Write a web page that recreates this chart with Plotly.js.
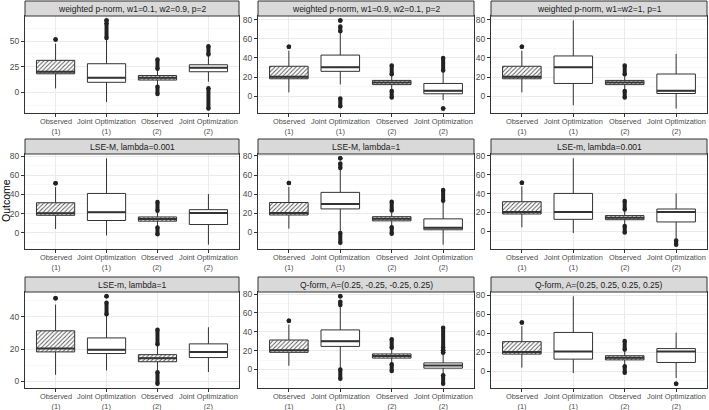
<!DOCTYPE html>
<html>
<head>
<meta charset="utf-8">
<script src="https://cdn.plot.ly/plotly-3.0.1.min.js"></script>
<style>html,body{margin:0;padding:0;background:#fff;}#chart{width:709px;height:410px;}</style>
</head>
<body>
<div id="chart"></div>
<script>
// ---------- data ----------
const panelTitles = [
  "weighted p-norm, w1=0.1, w2=0.9, p=2",
  "weighted p-norm, w1=0.9, w2=0.1, p=2",
  "weighted p-norm, w1=w2=1, p=1",
  "LSE-M, lambda=0.001",
  "LSE-M, lambda=1",
  "LSE-m, lambda=0.001",
  "LSE-m, lambda=1",
  "Q-form, A=(0.25, -0.25, -0.25, 0.25)",
  "Q-form, A=(0.25, 0.25, 0.25, 0.25)"
];
const categories = ["Observed<br>(1)", "Joint Optimization<br>(1)", "Observed<br>(2)", "Joint Optimization<br>(2)"];
const patternShapes = ["/", "", "/", ""];
const yDtick = [25, 20, 20, 20, 20, 20, 20, 20, 20];

// per panel: [Observed(1), Joint(1), Observed(2), Joint(2)]
const lowerFence = [
  [4, -9.3, 6, 10.5], [4, 12.3, 6, -4], [4, -9.5, 6, -13],
  [4, -2.8, 6, -12.4], [4, 0.3, 6, -12.8], [4, -2.1, 6, -8.3],
  [4, 6.7, 6, 5.7], [4, 0.7, 6, -5.6], [4, -1.7, 6, -7]
];
const q1 = [
  [18.2, 9.9, 12.1, 20.2], [18.2, 26, 12.1, 2.5], [18.2, 13.3, 12.1, 2.8],
  [18.2, 12.8, 12.1, 8.6], [18.2, 24.6, 12.1, 2.8], [18.2, 12.5, 12.1, 9.7],
  [18.2, 17.2, 12.1, 14.7], [18.2, 24.5, 12.1, 1.4], [18.2, 12.9, 12.1, 9.4]
];
const median = [
  [20.3, 14.4, 14.3, 24.2], [20.3, 30.2, 14.3, 5.6], [20.3, 30.2, 14.3, 5.6],
  [20.3, 21.4, 14.3, 20.7], [20.3, 29.8, 14.3, 4.8], [20.3, 20.4, 14.3, 20.4],
  [20.3, 19.6, 14.3, 18.2], [20.3, 30.1, 14.3, 4.2], [20.3, 20.9, 14.3, 20.9]
];
const q3 = [
  [31.3, 28, 16.5, 27], [31.3, 43, 16.5, 13.3], [31.3, 42.1, 16.5, 23.2],
  [31.3, 41, 16.5, 24.1], [31.3, 41.9, 16.5, 14.2], [31.3, 40.1, 16.5, 23.5],
  [31.3, 26.9, 16.5, 23.2], [31.3, 42, 16.5, 7], [31.3, 41, 16.5, 24]
];
const upperFence = [
  [47.6, 52, 22.5, 36.5], [47.6, 67, 22.5, 26.5], [47.6, 79.3, 22.5, 44.2],
  [47.6, 77.6, 22.5, 40.3], [47.6, 67, 22.5, 32.5], [47.6, 77.5, 22.5, 40.1],
  [47.6, 41, 22.5, 33.5], [47.6, 67, 22.5, 16.4], [47.6, 79, 22.5, 40.7]
];
// outlier clusters as [low, high] ranges of densely overlapping points
const outliers = [
  [[[51.6, 51.6]], [[53, 67.5], [70.2, 70.2]], [[-1.5, 5.5], [23, 32]], [[-15.7, 4.2], [37, 45]]],
  [[[51.6, 51.6]], [[-10.5, -2.5], [68, 73], [79.3, 79.3]], [[-1.5, 5.5], [23, 32]], [[-13, -13], [27, 40]]],
  [[[51.6, 51.6]], [], [[-1.5, 5.5], [23, 32]], []],
  [[[51.6, 51.6]], [], [[-1.5, 5.5], [23, 32]], []],
  [[[51.6, 51.6]], [[-10.7, -0.5], [67.5, 72], [77.5, 77.5]], [[-1.5, 5.5], [23, 32]], [[33.2, 44.3]]],
  [[[51.6, 51.6]], [], [[-1.5, 5.5], [23, 32]], [[-14.5, -10]]],
  [[[51.6, 51.6]], [[41.6, 48.7], [52.7, 52.7]], [[-1.5, 5.5], [23, 32]], []],
  [[[51.6, 51.6]], [[-9.8, 0], [68.5, 72], [77.6, 77.6]], [[-1.5, 5.5], [23, 32]], [[-15, -6], [18, 18], [20.5, 20.5], [23.4, 44.4]]],
  [[[51.6, 51.6]], [], [[-1.5, 5.5], [23, 32]], [[-12.9, -12.9]]]
];

// ---------- layout geometry (pixels) ----------
const W = 709, H = 410;
const colX = [[25, 239], [258, 474], [491, 707]];
const rowY = [[16, 113], [154, 249], [292, 388]];
const stripH = 15;
const boxW = 0.75;
const FONT = "Liberation Sans, Arial, sans-serif";

const traces = [];
const layout = {
  width: W, height: H,
  margin: {l: 0, r: 0, t: 0, b: 0},
  paper_bgcolor: "#ffffff", plot_bgcolor: "#ffffff",
  showlegend: false,
  barmode: "overlay", boxmode: "overlay",
  font: {family: FONT, color: "#4D4D4D"},
  shapes: [], annotations: []
};

for (let i = 0; i < 9; i++) {
  const r = Math.floor(i / 3), c = i % 3;
  const s = i === 0 ? "" : String(i + 1);
  const xa = "x" + s, ya = "y" + s;
  const xd = [colX[c][0] / W, colX[c][1] / W];
  const yd = [1 - rowY[r][1] / H, 1 - rowY[r][0] / H];

  // y range from data with 5% expansion
  let lo = Infinity, hi = -Infinity;
  for (let j = 0; j < 4; j++) {
    lo = Math.min(lo, lowerFence[i][j]); hi = Math.max(hi, upperFence[i][j]);
    outliers[i][j].forEach(p => { lo = Math.min(lo, p[0]); hi = Math.max(hi, p[1]); });
  }
  const pad = (hi - lo) * 0.05;

  layout["xaxis" + s] = {
    domain: xd, anchor: ya, range: [-0.6, 3.6],
    tickmode: "array", tickvals: [0, 1, 2, 3], showticklabels: false,
    showgrid: true, gridcolor: "#EBEBEB", gridwidth: 1, zeroline: false,
    showline: true, mirror: true, linecolor: "#333333", linewidth: 1,
    ticks: "outside", ticklen: 3, tickcolor: "#333333", fixedrange: true
  };
  layout["yaxis" + s] = {
    domain: yd, anchor: xa, range: [lo - pad, hi + pad],
    tickmode: "linear", tick0: 0, dtick: yDtick[i],
    showgrid: true, gridcolor: "#EBEBEB", gridwidth: 1, zeroline: false,
    minor: {tickmode: "linear", tick0: 0, dtick: yDtick[i] / 2, showgrid: true, gridcolor: "#F3F3F3", gridwidth: 0.6, ticks: ""},
    showline: true, mirror: true, linecolor: "#333333", linewidth: 1,
    ticks: "outside", ticklen: 3, tickcolor: "#333333",
    tickfont: {family: FONT, size: 8.5, color: "#4D4D4D"}, fixedrange: true
  };

  // strip
  layout.shapes.push({
    type: "rect", xref: "paper", yref: "paper",
    x0: xd[0], x1: xd[1], y0: yd[1], y1: yd[1] + stripH / H,
    fillcolor: "#D9D9D9", line: {color: "#333333", width: 1}, layer: "above"
  });
  layout.annotations.push({
    xref: "paper", yref: "paper", x: (xd[0] + xd[1]) / 2, y: yd[1] + stripH / (2 * H),
    xanchor: "center", yanchor: "middle", showarrow: false,
    text: panelTitles[i], font: {family: FONT, size: 8.5, color: "#1A1A1A"}
  });

  const xs = [0, 1, 2, 3];
  // category labels placed on the x scale
  xs.forEach(j => {
    layout.annotations.push({
      xref: xa, yref: "paper", x: j, y: 1 - (rowY[r][1] + 2.5) / H,
      xanchor: "center", yanchor: "top", showarrow: false, borderpad: 0,
      text: categories[j], font: {family: FONT, size: 7.4, color: "#4D4D4D"}
    });
  });

  // box fills (hatched for observed)
  traces.push({
    type: "bar", xaxis: xa, yaxis: ya, x: xs,
    base: q1[i], y: q3[i].map((v, j) => v - q1[i][j]), width: boxW,
    marker: {color: "#ffffff", line: {width: 0},
      pattern: {shape: patternShapes, fgcolor: "#555555", bgcolor: "#ffffff", size: 3, solidity: 0.3}},
    hoverinfo: "skip"
  });
  // boxes
  traces.push({
    type: "box", xaxis: xa, yaxis: ya, x: xs,
    q1: q1[i], median: median[i], q3: q3[i],
    lowerfence: lowerFence[i], upperfence: upperFence[i],
    width: boxW, whiskerwidth: 0, boxpoints: false,
    fillcolor: "rgba(0,0,0,0)", line: {color: "#333333", width: 1},
    hoverinfo: "skip"
  });
  // thick medians
  const mx = [], my = [];
  xs.forEach(j => { mx.push(j - boxW / 2, j + boxW / 2, null); my.push(median[i][j], median[i][j], null); });
  traces.push({type: "scatter", mode: "lines", xaxis: xa, yaxis: ya, x: mx, y: my,
    line: {color: "#333333", width: 2}, hoverinfo: "skip"});
  // outliers
  const ox = [], oy = [];
  xs.forEach(j => outliers[i][j].forEach(p => { ox.push(j, j, null); oy.push(p[0], p[1], null); }));
  traces.push({type: "scatter", mode: "lines+markers", xaxis: xa, yaxis: ya, x: ox, y: oy,
    line: {color: "#222222", width: 4}, marker: {color: "#222222", size: 4.5},
    hoverinfo: "skip", connectgaps: false});
}

layout.annotations.push({
  xref: "paper", yref: "paper", x: 6 / W, y: 1 - 201 / H,
  xanchor: "center", yanchor: "middle", showarrow: false, textangle: -90,
  text: "Outcome", font: {family: FONT, size: 10.5, color: "#000000"}
});

Plotly.newPlot("chart", traces, layout, {displayModeBar: false, staticPlot: true});
</script>
</body>
</html>
